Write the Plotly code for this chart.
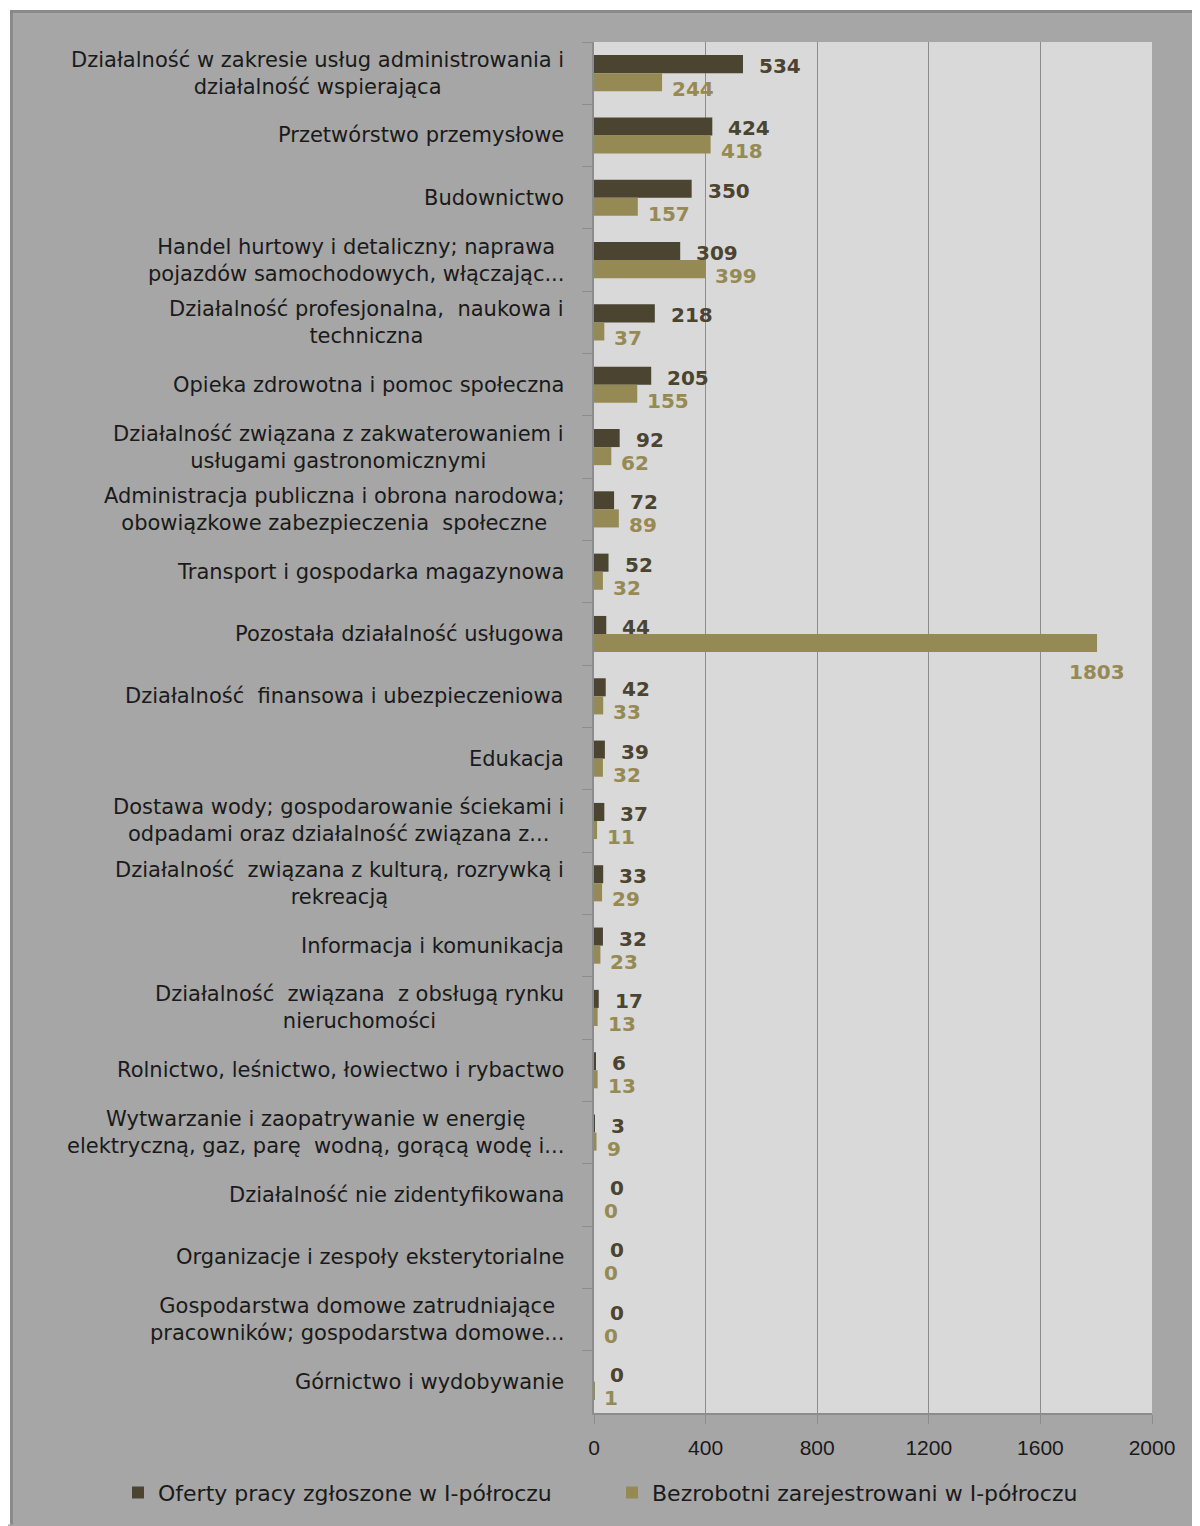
import plotly.graph_objects as go

categories = [
    "Działalność w zakresie usług administrowania i<br>działalność wspierająca",
    "Przetwórstwo przemysłowe",
    "Budownictwo",
    "Handel hurtowy i detaliczny; naprawa<br>pojazdów samochodowych, włączając...",
    "Działalność profesjonalna,  naukowa i<br>techniczna",
    "Opieka zdrowotna i pomoc społeczna",
    "Działalność związana z zakwaterowaniem i<br>usługami gastronomicznymi",
    "Administracja publiczna i obrona narodowa;<br>obowiązkowe zabezpieczenia  społeczne",
    "Transport i gospodarka magazynowa",
    "Pozostała działalność usługowa",
    "Działalność  finansowa i ubezpieczeniowa",
    "Edukacja",
    "Dostawa wody; gospodarowanie ściekami i<br>odpadami oraz działalność związana z...",
    "Działalność  związana z kulturą, rozrywką i<br>rekreacją",
    "Informacja i komunikacja",
    "Działalność  związana  z obsługą rynku<br>nieruchomości",
    "Rolnictwo, leśnictwo, łowiectwo i rybactwo",
    "Wytwarzanie i zaopatrywanie w energię<br>elektryczną, gaz, parę  wodną, gorącą wodę i...",
    "Działalność nie zidentyfikowana",
    "Organizacje i zespoły eksterytorialne",
    "Gospodarstwa domowe zatrudniające<br>pracowników; gospodarstwa domowe...",
    "Górnictwo i wydobywanie",
]
oferty = [534, 424, 350, 309, 218, 205, 92, 72, 52, 44, 42, 39, 37, 33, 32, 17, 6, 3, 0, 0, 0, 0]
bezrobotni = [244, 418, 157, 399, 37, 155, 62, 89, 32, 1803, 33, 32, 11, 29, 23, 13, 13, 9, 0, 0, 0, 1]
series_names = ["Oferty pracy zgłoszone w I-półroczu", "Bezrobotni zarejestrowani w I-półroczu"]
x_ticks = [0, 400, 800, 1200, 1600, 2000]
title_text = "Wykres nr 8. Struktura bezrobotnych i ofert pracy według PKD w Bielsku – Białej w I półroczu"

DARK = "#4a4430"
OLIVE = "#968a54"
PANEL = "#a6a6a6"
PLOT = "#d9d9d9"
GRID = "#8c8c8c"
XMAX = 2000

# page offset of the figure (default body margin)
OFF = 8
# plot area in page pixels: x 594..1152, y 42..1418
W, H = 1200 - OFF, 1526 - OFF
L, T = 594 - OFF, 42 - OFF
R, B = W - (1152 - OFF), H - (1418 - OFF)
pw, ph = W - L - R, H - T - B

def px_x(p):
    return (p - OFF - L) / pw

def px_y(p):
    return (H - B - (p - OFF)) / ph

fig = go.Figure()
fig.add_trace(go.Bar(y=categories, x=oferty, orientation="h", name=series_names[0],
                     marker=dict(color=DARK, line=dict(width=0)), legend="legend"))
fig.add_trace(go.Bar(y=categories, x=bezrobotni, orientation="h", name=series_names[1],
                     marker=dict(color=OLIVE, line=dict(width=0)), legend="legend2"))

annotations = []
# category labels
for c in categories:
    annotations.append(dict(x=px_x(566), xref="paper", y=c, yref="y", text=c,
                            xanchor="right", yanchor="middle", align="center", showarrow=False,
                            font=dict(family="DejaVu Sans", size=21, color="#1a1a1a")))
# data labels
for c, v in zip(categories, oferty):
    annotations.append(dict(x=v, xref="x", y=c, yref="y", text=str(v), xanchor="left",
                            yanchor="middle", xshift=14, yshift=7, showarrow=False,
                            font=dict(family="DejaVu Sans", size=20, color=DARK, weight="bold")))
for c, v in zip(categories, bezrobotni):
    if v > 0.8 * XMAX:
        annotations.append(dict(x=v, xref="x", y=c, yref="y", text=str(v), xanchor="center",
                                yanchor="middle", xshift=0, yshift=-38, showarrow=False,
                                font=dict(family="DejaVu Sans", size=20, color=OLIVE, weight="bold")))
    else:
        annotations.append(dict(x=v, xref="x", y=c, yref="y", text=str(v), xanchor="left",
                                yanchor="middle", xshift=8, yshift=-16, showarrow=False,
                                font=dict(family="DejaVu Sans", size=20, color=OLIVE, weight="bold")))
# title, only its lower edge shows at the top of the page
annotations.append(dict(x=px_x(0), xref="paper", y=px_y(11), yref="paper", text="<b>" + title_text + "</b>",
                        xanchor="left", yanchor="bottom", showarrow=False,
                        font=dict(family="Open Sans", size=21, color="#000000")))

shapes = [
    # white margin strips outside the gray panel
    dict(type="rect", xref="paper", yref="paper", x0=px_x(0), x1=px_x(1210), y0=px_y(0), y1=px_y(10),
         fillcolor="white", line=dict(width=0), layer="above"),
    dict(type="rect", xref="paper", yref="paper", x0=px_x(0), x1=px_x(10), y0=px_y(0), y1=px_y(1530),
         fillcolor="white", line=dict(width=0), layer="above"),
    # panel border
    dict(type="line", xref="paper", yref="paper", x0=px_x(10), x1=px_x(1210), y0=px_y(11.5), y1=px_y(11.5),
         line=dict(color="#8a8a8a", width=3), layer="above"),
    dict(type="line", xref="paper", yref="paper", x0=px_x(11.5), x1=px_x(11.5), y0=px_y(10), y1=px_y(1530),
         line=dict(color="#8a8a8a", width=3), layer="above"),
]

legend_font = dict(family="DejaVu Sans", size=22, color="#1a1a1a")
fig.update_layout(
    width=W, height=H,
    margin=dict(l=L, r=R, t=T, b=B, pad=0),
    paper_bgcolor=PANEL, plot_bgcolor=PLOT,
    barmode="group", bargap=0.42, bargroupgap=0,
    showlegend=True,
    legend=dict(orientation="h", x=px_x(118), xanchor="left", y=px_y(1498), yanchor="middle",
                font=legend_font, bgcolor="rgba(0,0,0,0)", itemwidth=30),
    legend2=dict(orientation="h", x=px_x(612), xanchor="left", y=px_y(1498), yanchor="middle",
                 font=legend_font, bgcolor="rgba(0,0,0,0)", itemwidth=30),
    xaxis=dict(range=[0, XMAX], tickvals=x_ticks, ticktext=[str(t) for t in x_ticks],
               showgrid=True, gridcolor=GRID, gridwidth=1.3, zeroline=False,
               showline=True, linecolor=GRID, linewidth=1.5,
               ticks="outside", ticklen=9, tickcolor=GRID, tickwidth=1.3,
               tickfont=dict(family="Liberation Sans", size=21, color="#1a1a1a"),
               ticklabelstandoff=6, fixedrange=True),
    yaxis=dict(autorange="reversed", showticklabels=False, showgrid=False, zeroline=False,
               showline=True, linecolor=GRID, linewidth=1.5,
               ticks="outside", ticklen=10, tickcolor=GRID, tickwidth=1.3, tickson="boundaries",
               fixedrange=True),
    annotations=annotations,
    shapes=shapes,
    font=dict(family="DejaVu Sans"),
)

fig.write_html("out.html")
